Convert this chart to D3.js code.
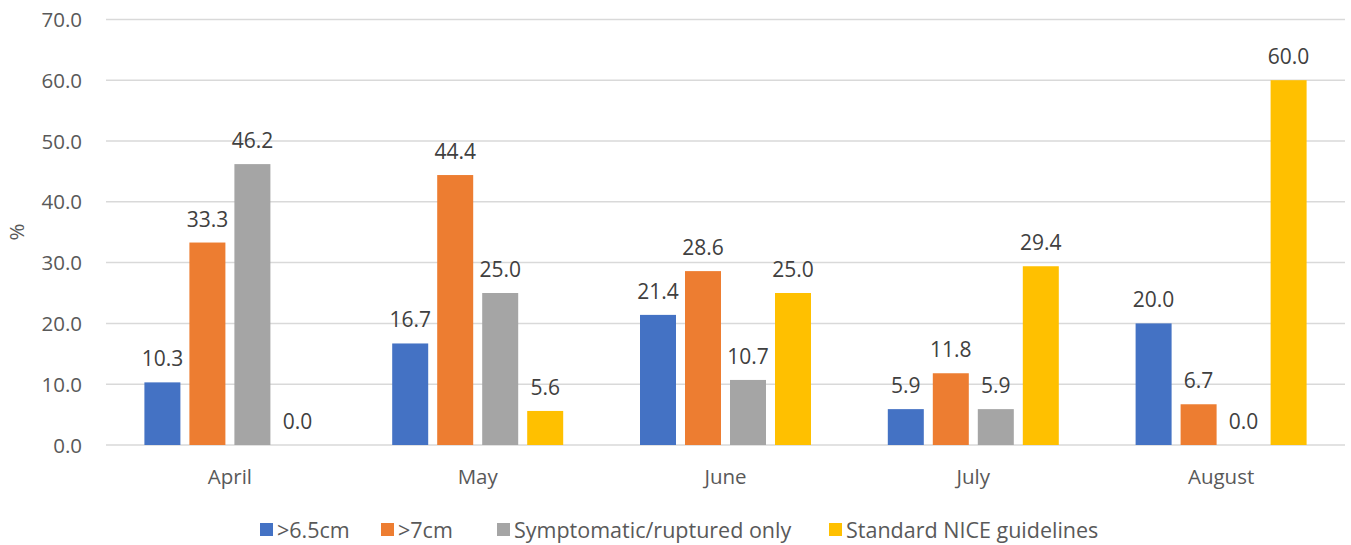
<!DOCTYPE html>
<html>
<head>
<meta charset="utf-8">
<script src="https://cdn.jsdelivr.net/npm/d3@7"></script>
<style>
  html, body { margin: 0; padding: 0; background: #fff; }
  svg text { font-family: "Open Sans", "Noto Sans", sans-serif; }
</style>
</head>
<body>
<svg id="chart" width="1351" height="545"></svg>
<script>
// Monthly percentages by threshold
const months = ["April", "May", "June", "July", "August"];
const seriesNames = [">6.5cm", ">7cm", "Symptomatic/ruptured only", "Standard NICE guidelines"];
const over65 = [10.3, 16.7, 21.4, 5.9, 20.0];
const over7 = [33.3, 44.4, 28.6, 11.8, 6.7];
const symptomatic = [46.2, 25.0, 10.7, 5.9, 0.0];
const nice = [0.0, 5.6, 25.0, 29.4, 60.0];
const yTicks = [0, 10, 20, 30, 40, 50, 60, 70];
const colors = ["#4472C4", "#ED7D31", "#A5A5A5", "#FFC000"];

const seriesValues = [over65, over7, symptomatic, nice];

const svg = d3.select("#chart");
const plotLeft = 106, plotRight = 1345, plotTop = 19.4, plotBottom = 445;

const x0 = d3.scaleBand().domain(months).range([plotLeft, plotRight]);
const x1 = d3.scaleBand().domain(seriesNames).range([0, 180]).paddingInner(0.2).paddingOuter(0.1);
const y = d3.scaleLinear().domain([0, 70]).range([plotBottom, plotTop]);

// Gridlines
svg.append("g").selectAll("line").data(yTicks).join("line")
  .attr("x1", plotLeft).attr("x2", plotRight)
  .attr("y1", d => y(d)).attr("y2", d => y(d))
  .attr("stroke", "#D9D9D9").attr("stroke-width", 1.5);

// Y axis labels
const yAxis = d3.axisLeft(y).tickValues(yTicks).tickFormat(d3.format(".1f")).tickSize(0).tickPadding(0);
const yg = svg.append("g").attr("transform", "translate(82,0)").call(yAxis);
yg.select(".domain").remove();
yg.selectAll("text").attr("font-size", 20.5).attr("fill", "#595959").attr("dy", "0.35em")
  .style("font-family", "'Open Sans', sans-serif");

// X axis labels
const xAxis = d3.axisBottom(x0).tickSize(0).tickPadding(0);
const xg = svg.append("g").attr("transform", `translate(0,${plotBottom})`).call(xAxis);
xg.select(".domain").remove();
xg.selectAll("text").attr("font-size", 20.5).attr("fill", "#595959").attr("y", 39).attr("dy", 0)
  .style("font-family", "'Open Sans', sans-serif");

// Y axis title
svg.append("text").attr("transform", "translate(24,232) rotate(-90)")
  .attr("text-anchor", "middle").attr("font-size", 20.5).attr("fill", "#595959").text("%");

// Bars and value labels
const groupOffset = m => x0(m) + x0.bandwidth() / 2 - 90;
seriesNames.forEach((s, si) => {
  const g = svg.append("g");
  const data = months.map((m, i) => ({ m, v: seriesValues[si][i] }));
  g.selectAll("rect").data(data).join("rect")
    .attr("x", d => groupOffset(d.m) + x1(s))
    .attr("width", x1.bandwidth())
    .attr("y", d => y(d.v))
    .attr("height", d => y(0) - y(d.v))
    .attr("fill", colors[si]);
  g.selectAll("text").data(data).join("text")
    .attr("x", d => groupOffset(d.m) + x1(s) + x1.bandwidth() / 2)
    .attr("y", d => y(d.v) - 16)
    .attr("text-anchor", "middle").attr("font-size", 21).attr("fill", "#404040")
    .text(d => d3.format(".1f")(d.v));
});

// Legend
const legendX = [260, 381, 497, 829];
const lg = svg.append("g");
seriesNames.forEach((s, i) => {
  lg.append("rect").attr("x", legendX[i]).attr("y", 523).attr("width", 13).attr("height", 13).attr("fill", colors[i]);
  lg.append("text").attr("x", legendX[i] + 17).attr("y", 538)
    .attr("font-size", 21.5).attr("fill", "#595959").text(s);
});
</script>
</body>
</html>
